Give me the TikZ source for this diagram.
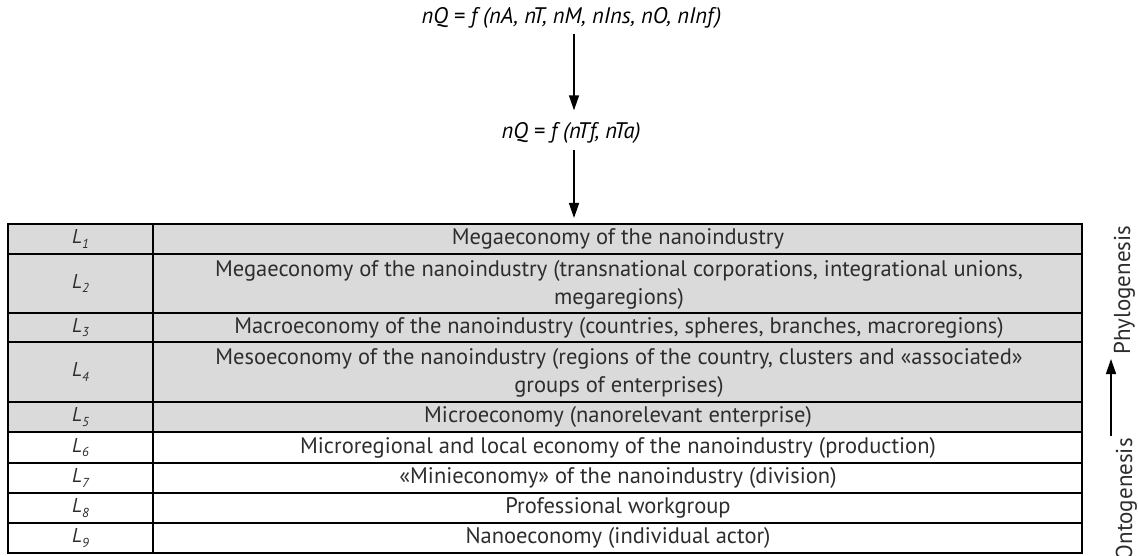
\documentclass[tikz,border=0pt]{standalone}
\usepackage{fontspec}
\setmainfont{PT Sans}
\usetikzlibrary{arrows.meta}
\definecolor{rowgray}{RGB}{218,218,218}
\definecolor{txt}{RGB}{45,45,45}
\newcommand{\Lab}[1]{L\raisebox{-0.22em}{\fontsize{13}{13}\selectfont #1}}
\begin{document}
\begin{tikzpicture}[x=1pt,y=-1pt,
  cell/.style={font=\fontsize{22.5}{28}\selectfont, text=txt, align=center, inner sep=0pt},
  lab/.style={font=\fontsize{20}{24}\selectfont\itshape, text=txt, inner sep=0pt},
  formula/.style={font=\fontsize{22.5}{26}\selectfont\itshape, inner sep=0pt},
  side/.style={font=\fontsize{23}{26}\selectfont, text=txt, inner sep=0pt, rotate=90},
  flow/.style={-{Triangle[length=15pt,width=10pt]}, line width=1.4pt},
  rule/.style={line width=1.8pt}]
\useasboundingbox (0,0) rectangle (1138,556);
\clip (0,0) rectangle (1138,556);
% shading of the upper rows
\fill[rowgray] (8,224) rectangle (1082,432);
% table rules
\draw[rule] (8,224) rectangle (1082,553);
\foreach \y in {254,313,342,402,432,463,493,523} \draw[rule] (8,\y) -- (1082,\y);
\draw[rule] (153,224) -- (153,553);
% formulas
\node[formula] (f1) at (571.5,18) {nQ = f (nA, nT, nM, nIns, nO, nInf)};
\node[formula] (f2) at (571,133) {nQ = f (nTf, nTa)};
\coordinate (ttop) at (574,218);
\draw[flow] ([xshift=2.5pt,yshift=-5pt]f1.south) -- ([xshift=3pt,yshift=12pt]f2.north);
\draw[flow] ([xshift=3pt,yshift=-6pt]f2.south) -- (ttop);
% labels
\node[lab] (l1) at (80.5,239) {\Lab{1}};
\node[lab] (l2) at (80.5,283.5) {\Lab{2}};
\node[lab] (l3) at (80.5,327.5) {\Lab{3}};
\node[lab] (l4) at (80.5,372) {\Lab{4}};
\node[lab] (l5) at (80.5,417) {\Lab{5}};
\node[lab] (l6) at (80.5,447.5) {\Lab{6}};
\node[lab] (l7) at (80.5,478) {\Lab{7}};
\node[lab] (l8) at (80.5,508) {\Lab{8}};
\node[lab] (l9) at (80.5,538) {\Lab{9}};
% contents
\node[cell] (c1) at (618,239) {Megaeconomy of the nanoindustry};
\node[cell] (c2) at (619,285) {Megaeconomy of the nanoindustry (transnational corporations, integrational unions,\\megaregions)};
\node[cell] (c3) at (619,327.5) {Macroeconomy of the nanoindustry (countries, spheres, branches, macroregions)};
\node[cell] (c4) at (619,373) {Mesoeconomy of the nanoindustry (regions of the country, clusters and «associated»\\groups of enterprises)};
\node[cell] (c5) at (618,417) {Microeconomy (nanorelevant enterprise)};
\node[cell] (c6) at (618,447.5) {Microregional and local economy of the nanoindustry (production)};
\node[cell] (c7) at (618,478) {«Minieconomy» of the nanoindustry (division)};
\node[cell] (c8) at (618,508) {Professional workgroup};
\node[cell] (c9) at (618,538) {Nanoeconomy (individual actor)};
% side arrow
\node[side, anchor=base east] (onto) at (1132,438) {Ontogenesis};
\node[side, anchor=base west] (phylo) at (1130,355) {Phylogenesis};
\coordinate (ua) at (1111,436);
\coordinate (ub) at (1111,359);
\draw[flow] (ua) -- (ub);
\end{tikzpicture}
\end{document}
